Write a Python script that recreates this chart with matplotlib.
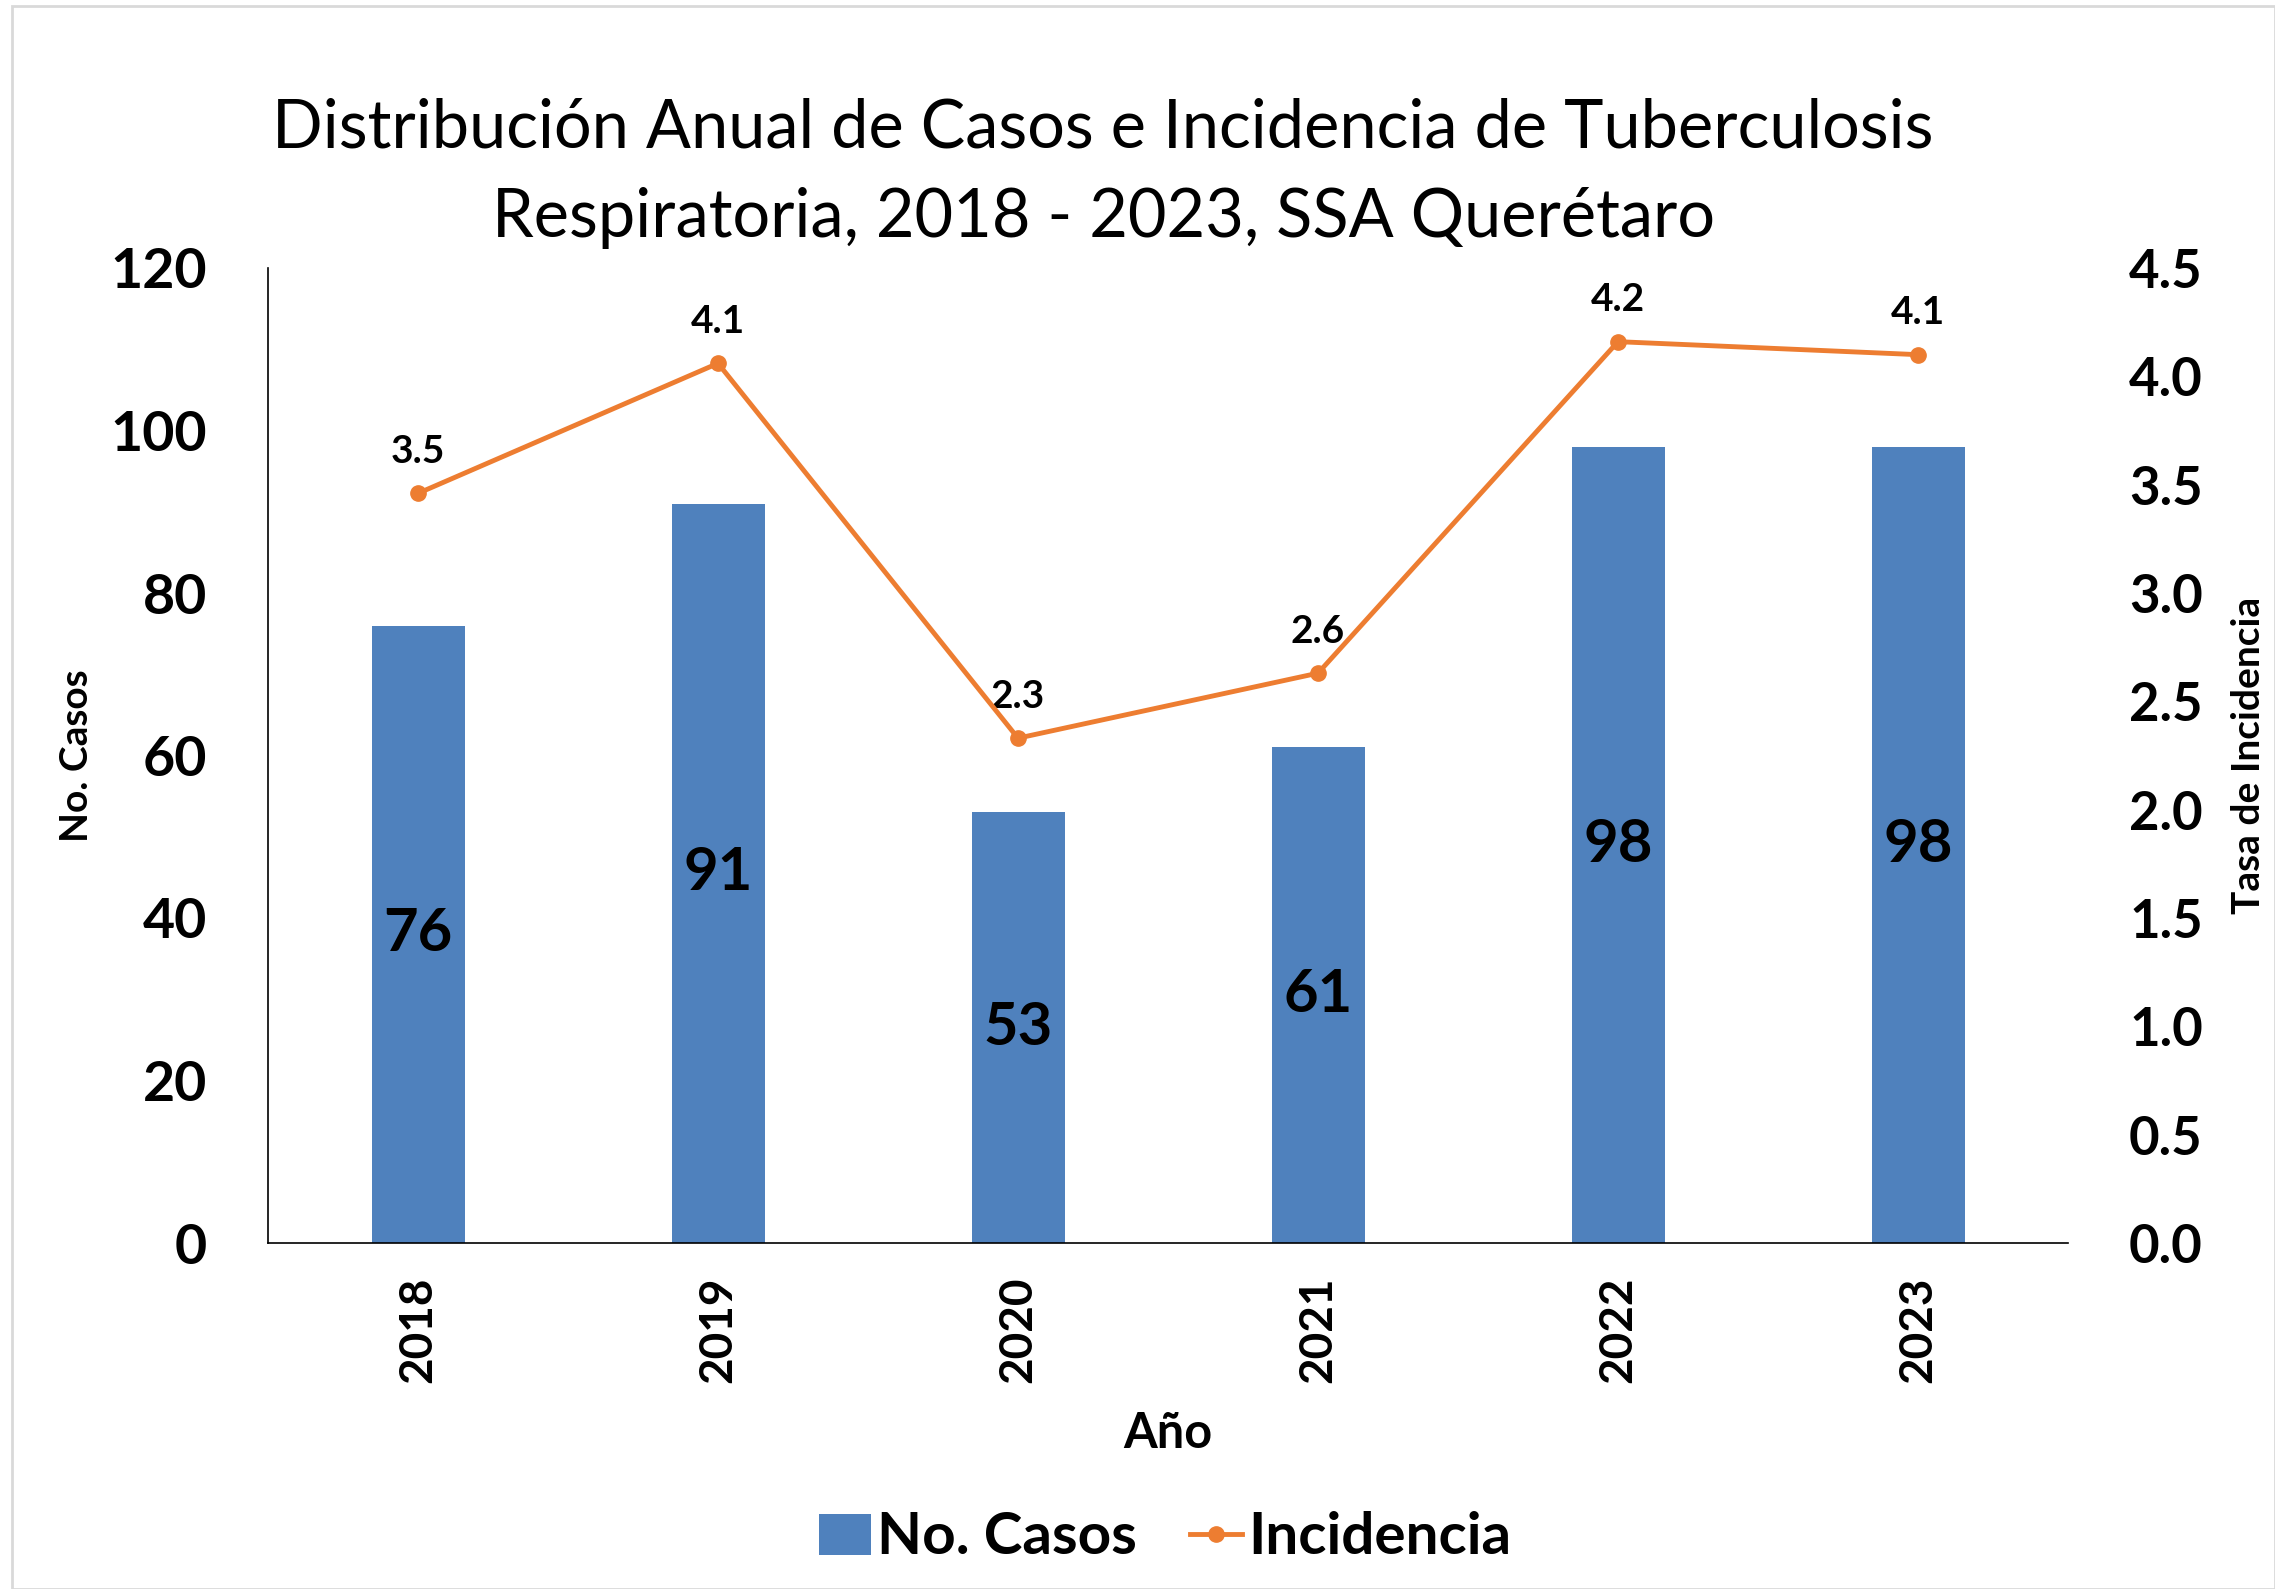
import matplotlib
matplotlib.use("Agg")
import matplotlib.pyplot as plt
from matplotlib.patches import Rectangle
from matplotlib.lines import Line2D
from matplotlib.patches import Patch

plt.rcParams['font.family'] = ['Lato', 'DejaVu Sans']

years = ["2018", "2019", "2020", "2021", "2022", "2023"]
casos = [76, 91, 53, 61, 98, 98]
incidencia = [3.46, 4.06, 2.33, 2.63, 4.16, 4.10]
incidencia_labels = ["3.5", "4.1", "2.3", "2.6", "4.2", "4.1"]
left_ticks = [0, 20, 40, 60, 80, 100, 120]
right_ticks = [0.0, 0.5, 1.0, 1.5, 2.0, 2.5, 3.0, 3.5, 4.0, 4.5]

BLUE = "#4F81BD"
ORANGE = "#ED7D31"

fig = plt.figure(figsize=(22.75, 15.89), dpi=100)
fig.patches.append(Rectangle((12/2275, 0.0), 1 - 12/2275, 1 - 6/1589,
                             transform=fig.transFigure, fill=False,
                             edgecolor="#D9D9D9", linewidth=2))

ax = fig.add_axes([268/2275, 1 - 1243/1589, (2068 - 268)/2275, (1243 - 268)/1589])
x = list(range(len(years)))
bars = ax.bar(x, casos, width=0.31, color=BLUE, zorder=2)
ax.set_ylim(0, 120)
ax.set_xlim(-0.5, len(years) - 0.5)
ax.set_yticks(left_ticks)
ax.set_yticklabels([str(t) for t in left_ticks], fontsize=40, fontweight='bold')
ax.set_xticks(x)
ax.set_xticklabels(years, rotation=90, fontsize=33, fontweight='bold')
ax.tick_params(axis='y', length=0, pad=44)
ax.tick_params(axis='x', length=0, pad=24)
for s in ['top', 'right']:
    ax.spines[s].set_visible(False)
ax.spines['left'].set_color('black')
ax.spines['bottom'].set_color('black')
ax.spines['left'].set_linewidth(1.2)
ax.spines['bottom'].set_linewidth(1.2)

for xi, v in zip(x, casos):
    ax.text(xi, v / 2, str(v), ha='center', va='center', fontsize=43,
            fontweight='bold', color='black', zorder=3)

ax.set_ylabel("No. Casos", fontsize=28, fontweight='bold', labelpad=12)
ax.set_xlabel("Año", fontsize=35, fontweight='bold', labelpad=20)

ax2 = ax.twinx()
ax2.plot(x, incidencia, color=ORANGE, linewidth=3.5, marker='o', markersize=11, zorder=4)
ax2.set_ylim(0, 4.5)
ax2.set_yticks(right_ticks)
ax2.set_yticklabels([f"{t:.1f}" for t in right_ticks], fontsize=38, fontweight='bold')
ax2.tick_params(axis='y', length=0, pad=44)
for s in ['top', 'right', 'left', 'bottom']:
    ax2.spines[s].set_visible(False)
ax2.set_ylabel("Tasa de Incidencia", fontsize=28, fontweight='bold', labelpad=20)
for xi, v, lab in zip(x, incidencia, incidencia_labels):
    ax2.annotate(lab, (xi, v), xytext=(0, 30), textcoords='offset points',
                 ha='center', va='center', fontsize=28, fontweight='bold')

fig.text(1103/2275, 1 - 173/1589,
         "Distribución Anual de Casos e Incidencia de Tuberculosis\nRespiratoria, 2018 - 2023, SSA Querétaro",
         ha='center', va='center', fontsize=48, linespacing=1.55)

handles = [Patch(facecolor=BLUE, edgecolor='none'),
           Line2D([0], [0], color=ORANGE, linewidth=3.5, marker='o', markersize=11)]
fig.legend(handles, ["No. Casos", "Incidencia"], loc='center',
           bbox_to_anchor=(1165/2275, 1 - 1538/1589), ncol=2, frameon=False,
           prop={'size': 42, 'weight': 'bold'}, handlelength=0.9, handletextpad=0.1,
           columnspacing=0.9)

fig.savefig("out.png", dpi=100)
